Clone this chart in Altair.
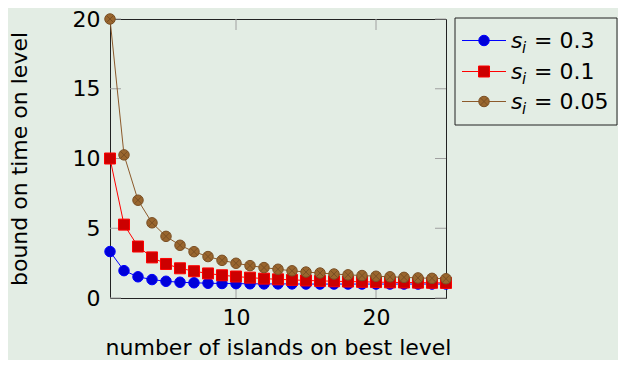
import altair as alt
import pandas as pd

# ---- data ----
islands = list(range(1, 26))
s_03 = [3.33, 1.96, 1.52, 1.32, 1.20, 1.13, 1.09, 1.06, 1.04, 1.03, 1.02, 1.01, 1.01,
        1.01, 1.00, 1.00, 1.00, 1.00, 1.00, 1.00, 1.00, 1.00, 1.00, 1.00, 1.00]
s_01 = [10.0, 5.26, 3.69, 2.91, 2.44, 2.13, 1.92, 1.76, 1.63, 1.54, 1.46, 1.39, 1.34,
        1.30, 1.26, 1.23, 1.20, 1.18, 1.16, 1.14, 1.12, 1.11, 1.10, 1.09, 1.08]
s_005 = [20.0, 10.26, 7.01, 5.39, 4.42, 3.78, 3.32, 2.97, 2.70, 2.49, 2.32, 2.18, 2.06,
         1.95, 1.86, 1.79, 1.72, 1.66, 1.61, 1.56, 1.52, 1.48, 1.44, 1.41, 1.38]
series_labels = ["0.3", "0.1", "0.05"]
x_ticks = [10, 20]
y_ticks = [0, 5, 10, 15, 20]

rows = []
for lab, vals in zip(series_labels, [s_03, s_01, s_005]):
    for k, v in zip(islands, vals):
        rows.append({"islands": k, "bound": v, "series": lab})
df = pd.DataFrame(rows)

FONT = "DejaVu Sans"
FS = 22
W, H = 336, 279
BG = "#e3ede4"

styles = {
    "0.3": dict(line="#0000ff", fill="#0000d9", stroke="#0000ff", shape="circle", size=110),
    "0.1": dict(line="#ff0000", fill="#cc0000", stroke="#ff0000", shape="square", size=121),
    "0.05": dict(line="#8c5a2b", fill="#99662e", stroke="#7a4f24", shape="circle", size=110),
}
CROSS = "M-0.7071,-0.7071L0.7071,0.7071M-0.7071,0.7071L0.7071,-0.7071"

x_enc = alt.X("islands:Q", scale=alt.Scale(domain=[1, 25], nice=False, zero=False),
              axis=alt.Axis(values=x_ticks, title="number of islands on best level",
                            labelPadding=9, titlePadding=9))
y_enc = alt.Y("bound:Q", scale=alt.Scale(domain=[0, 20], nice=False),
              axis=alt.Axis(values=y_ticks, title="bound on time on level",
                            labelPadding=10, titlePadding=41))

layers = []

# inner ticks (bottom/top, left/right)
xt = pd.DataFrame({"islands": x_ticks})
yt = pd.DataFrame({"bound": y_ticks})
TICK = "#a0a0a0"
TL = 11
layers.append(alt.Chart(xt).mark_rule(color=TICK, strokeWidth=1).encode(
    x=x_enc, y=alt.value(H), y2=alt.value(H - TL)))
layers.append(alt.Chart(xt).mark_rule(color=TICK, strokeWidth=1).encode(
    x=x_enc, y=alt.value(0), y2=alt.value(TL)))
layers.append(alt.Chart(yt).mark_rule(color=TICK, strokeWidth=1).encode(
    y=y_enc, x=alt.value(0), x2=alt.value(TL)))
layers.append(alt.Chart(yt).mark_rule(color=TICK, strokeWidth=1).encode(
    y=y_enc, x=alt.value(W - TL), x2=alt.value(W)))

# series
for lab in series_labels:
    st = styles[lab]
    base = alt.Chart(df).transform_filter(alt.datum.series == lab)
    layers.append(base.mark_line(color=st["line"], strokeWidth=1).encode(x=x_enc, y=y_enc))
    layers.append(base.mark_point(shape=st["shape"], size=st["size"], filled=True,
                                  fill=st["fill"], stroke=st["stroke"], strokeWidth=1,
                                  opacity=1).encode(x=x_enc, y=y_enc))
    if lab == "0.05":
        layers.append(base.mark_point(shape=CROSS, size=st["size"], filled=False,
                                      stroke=st["stroke"], strokeWidth=1,
                                      opacity=1).encode(x=x_enc, y=y_enc))

# legend (drawn to the right of the plot)
one = pd.DataFrame({"d": [0]})
LX0 = 345
layers.append(alt.Chart(one).mark_rect(fill=BG, stroke="#222", strokeWidth=1).encode(
    x=alt.value(LX0), x2=alt.value(LX0 + 162), y=alt.value(-1), y2=alt.value(106)))
baselines = [29, 60, 90]
for lab, bl in zip(series_labels, baselines):
    st = styles[lab]
    cy = bl - 7.5
    layers.append(alt.Chart(one).mark_rule(color=st["line"], strokeWidth=1).encode(
        x=alt.value(LX0 + 7), x2=alt.value(LX0 + 51), y=alt.value(cy)))
    layers.append(alt.Chart(one).mark_point(shape=st["shape"], size=st["size"], filled=True,
                                            fill=st["fill"], stroke=st["stroke"],
                                            strokeWidth=1, opacity=1).encode(
        x=alt.value(LX0 + 29), y=alt.value(cy)))
    if lab == "0.05":
        layers.append(alt.Chart(one).mark_point(shape=CROSS, size=st["size"], filled=False,
                                                stroke=st["stroke"], strokeWidth=1,
                                                opacity=1).encode(
            x=alt.value(LX0 + 29), y=alt.value(cy)))
    layers.append(alt.Chart(one).mark_text(text="s", font=FONT, fontSize=FS, fontStyle="italic",
                                           align="left", baseline="alphabetic",
                                           color="#000").encode(
        x=alt.value(LX0 + 56), y=alt.value(bl)))
    layers.append(alt.Chart(one).mark_text(text="i", font=FONT, fontSize=15, fontStyle="italic",
                                           align="left", baseline="alphabetic",
                                           color="#000").encode(
        x=alt.value(LX0 + 67), y=alt.value(bl + 5)))
    layers.append(alt.Chart(one).mark_text(text="= " + lab, font=FONT, fontSize=FS,
                                           align="left", baseline="alphabetic",
                                           color="#000").encode(
        x=alt.value(LX0 + 79), y=alt.value(bl)))

chart = alt.layer(*layers).properties(
    width=W, height=H,
    background=BG,
    padding={"left": 102, "top": 11, "right": 172, "bottom": 62},
    autosize=alt.AutoSizeParams(type="none"),
).configure_view(
    stroke="#222", strokeWidth=1, fill=BG
).configure_axis(
    domain=False, ticks=False, tickSize=0, grid=False,
    labelFont=FONT, labelFontSize=FS, labelColor="#000",
    titleFont=FONT, titleFontSize=FS, titleFontWeight="normal", titleColor="#000",
)

chart.save("out.html", embed_options={"renderer": "svg", "actions": False})
